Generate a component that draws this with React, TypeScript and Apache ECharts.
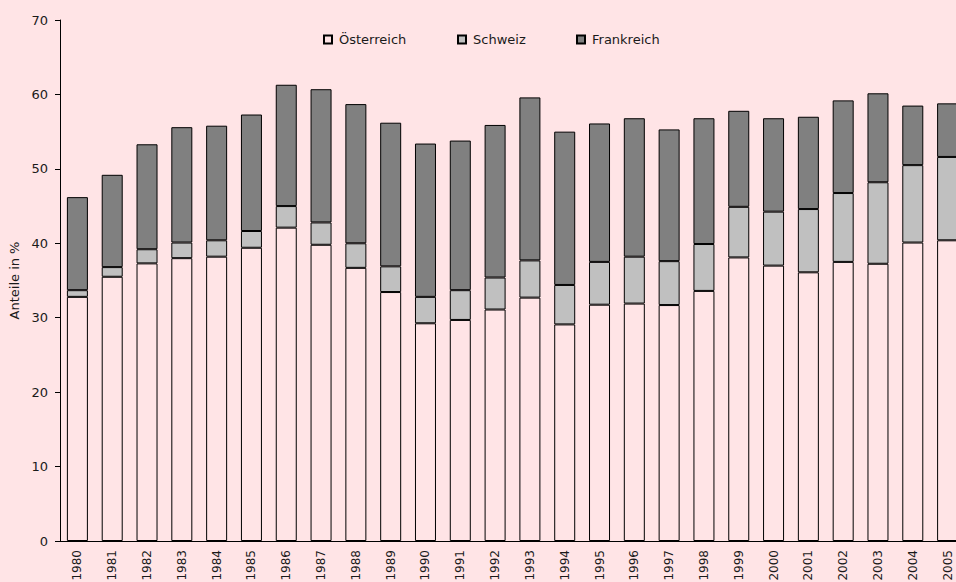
import React, { useEffect, useRef } from "react";
import * as echarts from "echarts";

const years = [
  "1980", "1981", "1982", "1983", "1984", "1985", "1986", "1987", "1988", "1989",
  "1990", "1991", "1992", "1993", "1994", "1995", "1996", "1997", "1998", "1999",
  "2000", "2001", "2002", "2003", "2004", "2005",
];

const oesterreich = [
  32.8, 35.5, 37.3, 38.0, 38.2, 39.4, 42.1, 39.8, 36.7, 33.45,
  29.25, 29.7, 31.1, 32.7, 29.1, 31.75, 31.9, 31.7, 33.6, 38.1,
  37.0, 36.1, 37.5, 37.25, 40.1, 40.4,
];

const schweiz = [
  0.9, 1.3, 1.9, 2.1, 2.2, 2.25, 2.9, 3.0, 3.3, 3.45,
  3.55, 4.0, 4.3, 5.0, 5.3, 5.75, 6.3, 5.9, 6.3, 6.8,
  7.25, 8.5, 9.25, 10.95, 10.4, 11.2,
];

const frankreich = [
  12.5, 12.4, 14.1, 15.5, 15.4, 15.65, 16.3, 17.9, 18.7, 19.3,
  20.6, 20.1, 20.5, 21.9, 20.6, 18.6, 18.6, 17.7, 16.9, 12.9,
  12.55, 12.4, 12.45, 11.95, 8.0, 7.2,
];

const seriesNames = ["Österreich", "Schweiz", "Frankreich"];
const yAxisName = "Anteile in %";

const BG = "#ffe4e6";
const FONT = "DejaVu Sans";
const TEXT = "#1a1a1a";

export default function App() {
  const ref = useRef<HTMLDivElement>(null);

  useEffect(() => {
    document.body.style.margin = "0";
    document.body.style.overflow = "hidden";
    if (!ref.current) return;
    const chart = echarts.init(ref.current, null, { renderer: "svg" });

    const colors = [BG, "#c0c0c0", "#808080"];
    const dataSets = [oesterreich, schweiz, frankreich];
    const legendLefts = [323, 457, 576];

    chart.setOption({
      animation: false,
      backgroundColor: BG,
      textStyle: { fontFamily: FONT },
      legend: seriesNames.map((n, i) => ({
        data: [n],
        left: legendLefts[i],
        top: 33,
        icon: "rect",
        itemWidth: 8,
        itemHeight: 8,
        padding: 0,
        textStyle: {
          fontFamily: FONT,
          fontSize: 13,
          color: TEXT,
          padding: [0, 0, 0, 2],
        },
        selectedMode: false,
      })),
      grid: {
        left: 60,
        top: 20,
        bottom: 41,
        right: -9,
        containLabel: false,
        outerBoundsMode: "none",
      },
      xAxis: {
        type: "category",
        data: years,
        axisLine: { lineStyle: { color: "#000", width: 1 } },
        axisTick: { show: false },
        axisLabel: {
          rotate: 90,
          margin: 9,
          fontFamily: FONT,
          fontSize: 12,
          color: TEXT,
          interval: 0,
          hideOverlap: false,
        },
      },
      yAxis: {
        type: "value",
        min: 0,
        max: 70,
        interval: 10,
        name: yAxisName,
        nameLocation: "middle",
        nameGap: 37,
        nameTextStyle: { fontFamily: FONT, fontSize: 13, color: TEXT },
        axisLine: { show: true, lineStyle: { color: "#000", width: 1 } },
        axisTick: { show: true, length: 5, lineStyle: { color: "#000" } },
        splitLine: { show: false },
        axisLabel: { margin: 12, fontFamily: FONT, fontSize: 13, color: TEXT },
      },
      series: seriesNames.map((n, i) => ({
        name: n,
        type: "bar",
        stack: "total",
        data: dataSets[i],
        barWidth: 21,
        itemStyle: { color: colors[i], borderColor: "#000", borderWidth: 1 },
        emphasis: { disabled: true },
      })),
    });

    return () => chart.dispose();
  }, []);

  return <div ref={ref} style={{ width: 956, height: 582 }} />;
}
